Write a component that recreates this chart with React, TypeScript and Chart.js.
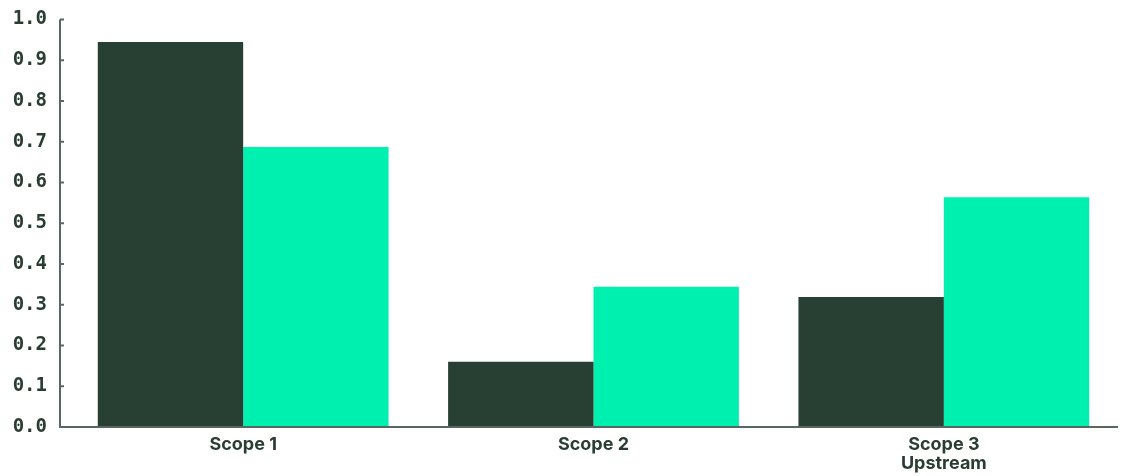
import React, { useEffect, useRef } from "react";
import { Chart, registerables } from "chart.js";

Chart.register(...registerables);

const categories: (string | string[])[] = ["Scope 1", "Scope 2", ["Scope 3", "Upstream"]];
const seriesDark = [0.945, 0.16, 0.319];
const seriesGreen = [0.687, 0.344, 0.564];
const yTicks = [0, 0.1, 0.2, 0.3, 0.4, 0.5, 0.6, 0.7, 0.8, 0.9, 1.0];

const TEXT = "#2a3d33";
const AXIS = "#56685f";

const axisPlugin = {
  id: "customAxes",
  afterDraw(chart: any) {
    const { ctx, chartArea, scales } = chart;
    const y = scales.y;
    const axisX = chartArea.left - 8;
    ctx.save();
    ctx.strokeStyle = AXIS;
    ctx.lineWidth = 2;
    ctx.beginPath();
    ctx.moveTo(axisX, y.getPixelForValue(1.0));
    ctx.lineTo(axisX, chartArea.bottom);
    ctx.lineTo(chartArea.right - 1, chartArea.bottom);
    ctx.stroke();
    yTicks.forEach((v) => {
      const py = y.getPixelForValue(v);
      ctx.beginPath();
      ctx.moveTo(axisX, py);
      ctx.lineTo(axisX + 4, py);
      ctx.stroke();
    });
    ctx.restore();
  },
};

export default function App() {
  const ref = useRef<HTMLCanvasElement>(null);
  useEffect(() => {
    document.body.style.margin = "0";
    const chart = new Chart(ref.current!, {
      type: "bar",
      data: {
        labels: categories,
        datasets: [
          { data: seriesDark, backgroundColor: "#283f33", borderWidth: 0 },
          { data: seriesGreen, backgroundColor: "#00f0b0", borderWidth: 0 },
        ],
      },
      options: {
        animation: false,
        responsive: false,
        maintainAspectRatio: false,
        layout: { padding: { top: 19.5, right: 7, left: 0, bottom: 0 } },
        plugins: { legend: { display: false }, tooltip: { enabled: false }, title: { display: false } },
        datasets: { bar: { barPercentage: 1, categoryPercentage: 0.83 } },
        scales: {
          x: {
            grid: { display: false, drawTicks: false },
            border: { display: false },
            ticks: {
              color: TEXT,
              padding: 8,
              font: { family: "Inter, 'Noto Sans', sans-serif", size: 18, weight: "bold", lineHeight: "19px" },
              maxRotation: 0,
            },
            afterFit(scale: any) {
              scale.height = 49;
              scale.paddingLeft = 0;
              scale.paddingRight = 0;
            },
          },
          y: {
            min: 0,
            max: 1.0,
            grid: { display: false, drawTicks: false },
            border: { display: false },
            afterBuildTicks(scale: any) {
              scale.ticks = yTicks.map((v) => ({ value: v }));
            },
            ticks: {
              color: TEXT,
              padding: 21,
              font: { family: "'DejaVu Sans Mono', monospace", size: 19, weight: "bold" },
              callback: (v: any) => Number(v).toFixed(1),
            },
            afterFit(scale: any) {
              scale.width = 68;
              scale.paddingTop = 0;
              scale.paddingBottom = 0;
            },
          },
        },
      },
      plugins: [axisPlugin],
    } as any);
    return () => chart.destroy();
  }, []);
  return (
    <div style={{ width: 1126, height: 476 }}>
      <canvas ref={ref} width={1126} height={476} />
    </div>
  );
}
